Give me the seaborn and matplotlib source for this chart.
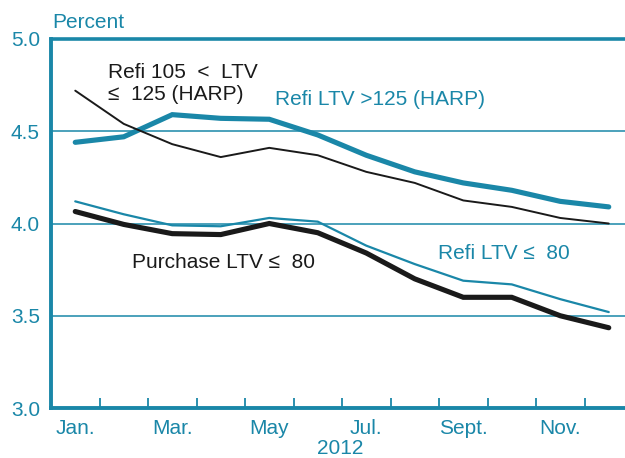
import numpy as np
import pandas as pd
import matplotlib
matplotlib.use("Agg")
import matplotlib.pyplot as plt
import seaborn as sns

months = ["Jan.", "Feb.", "Mar.", "Apr.", "May", "Jun.", "Jul.", "Aug.", "Sept.", "Oct.", "Nov.", "Dec."]
tick_months = ["Jan.", "Mar.", "May", "Jul.", "Sept.", "Nov."]
refi_gt125 = [4.44, 4.47, 4.59, 4.57, 4.565, 4.48, 4.37, 4.28, 4.22, 4.18, 4.12, 4.09]
refi_105_125 = [4.72, 4.54, 4.43, 4.36, 4.41, 4.37, 4.28, 4.22, 4.125, 4.09, 4.03, 4.0]
refi_le80 = [4.12, 4.05, 3.99, 3.985, 4.03, 4.01, 3.88, 3.78, 3.69, 3.67, 3.59, 3.52]
purchase_le80 = [4.065, 3.995, 3.945, 3.94, 4.0, 3.95, 3.84, 3.70, 3.60, 3.60, 3.50, 3.435]

teal = "#1a87a8"
black = "#1a1a1a"
fs = 15

sns.set_style("white")
plt.rcParams['font.family'] = ['Liberation Sans', 'DejaVu Sans']

x = np.arange(12) + 0.5
df = pd.DataFrame({
    'x': np.tile(x, 4),
    'rate': refi_gt125 + refi_105_125 + refi_le80 + purchase_le80,
    'series': (['gt125'] * 12 + ['105_125'] * 12 + ['le80'] * 12 + ['purchase'] * 12),
})

fig = plt.figure(figsize=(6.25, 4.58), dpi=100)
ax = fig.add_axes([51 / 625, 1 - 408 / 458, (633 - 51) / 625, (408 - 39) / 458])

styles = {
    'gt125': (teal, 3.7),
    '105_125': (black, 1.4),
    'le80': (teal, 1.6),
    'purchase': (black, 3.7),
}
for key, (col, lw) in styles.items():
    sub = df[df['series'] == key]
    sns.lineplot(data=sub, x='x', y='rate', ax=ax, color=col, linewidth=lw,
                 solid_capstyle='round', solid_joinstyle='miter', legend=False)

ax.set_xlim(0, 12)
ax.set_ylim(3.0, 5.0)
ax.set_yticks([3.0, 3.5, 4.0, 4.5, 5.0])
ax.set_yticklabels(["3.0", "3.5", "4.0", "4.5", "5.0"])
for yv in [3.5, 4.0, 4.5]:
    ax.axhline(yv, color=teal, linewidth=1.1, zorder=0)
ax.axhline(5.0, color=teal, linewidth=2.6, zorder=0, clip_on=False)

ax.set_xticks(np.arange(1, 12), minor=True)
ax.set_xticks([0.5, 2.5, 4.5, 6.5, 8.5, 10.5])
ax.set_xticklabels(tick_months)
ax.tick_params(axis='x', which='major', bottom=False, length=0, pad=8, labelsize=fs, labelcolor=teal)
ax.tick_params(axis='x', which='minor', bottom=True, direction='in', length=7, width=1.3, color=teal)
ax.tick_params(axis='y', left=False, length=0, pad=8, labelsize=fs, labelcolor=teal)

for s in ['top', 'right']:
    ax.spines[s].set_visible(False)
for s in ['left', 'bottom']:
    ax.spines[s].set_color(teal)
    ax.spines[s].set_linewidth(2.8)

ax.set_xlabel("")
ax.set_ylabel("")
fig.text(52 / 625, 1 - 22 / 458, "Percent", color=teal, fontsize=fs, va='center', ha='left')
fig.text(340 / 625, 1 - 448 / 458, "2012", color=teal, fontsize=fs, va='center', ha='center')

ax.text(1.18, 4.82, "Refi 105  <  LTV", color=black, fontsize=fs, ha='left', va='center')
ax.text(1.18, 4.70, "≤  125 (HARP)", color=black, fontsize=fs, ha='left', va='center')
ax.text(6.78, 4.67, "Refi LTV >125 (HARP)", color=teal, fontsize=fs, ha='center', va='center')
ax.text(9.34, 3.84, "Refi LTV ≤  80", color=teal, fontsize=fs, ha='center', va='center')
ax.text(3.55, 3.79, "Purchase LTV ≤  80", color=black, fontsize=fs, ha='center', va='center')

fig.savefig("out.png", dpi=100)
